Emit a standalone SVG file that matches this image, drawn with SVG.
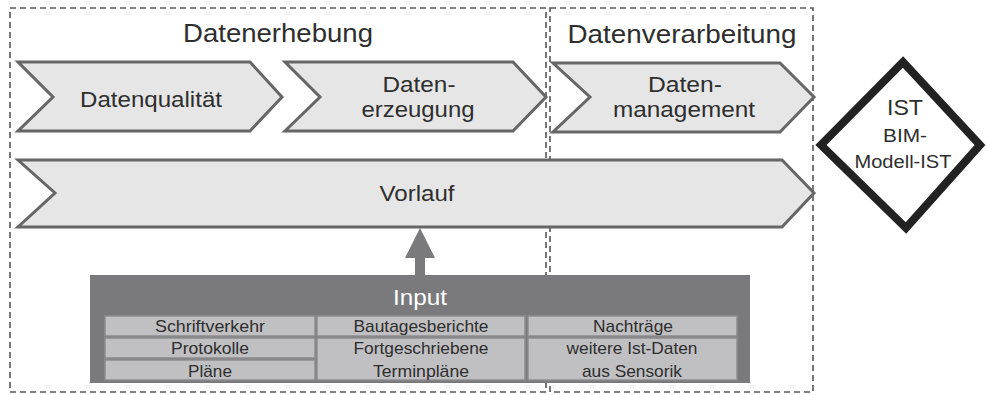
<svg xmlns="http://www.w3.org/2000/svg" width="987" height="395" viewBox="0 0 987 395">
<style>
text{font-family:"Liberation Sans",Arial,sans-serif;fill:#2e2e2e;text-anchor:middle}
.dash{fill:none;stroke:#555;stroke-width:1.6;stroke-dasharray:6 4}
.chev{fill:#e6e6e6;stroke:#666;stroke-width:3;stroke-linejoin:miter}
.cell{fill:#c0c0c2;stroke:#8d8d8f;stroke-width:1.5}
.h{font-size:26px}
.m{font-size:22px}
.s{font-size:17px}
</style>
<rect width="987" height="395" fill="#fff"/>
<g id="frame-datenerhebung">
<rect class="dash" x="10" y="8" width="536" height="384"/>
<text class="h" x="278" y="42" textLength="190" lengthAdjust="spacingAndGlyphs">Datenerhebung</text>
</g>
<g id="frame-datenverarbeitung">
<rect class="dash" x="550" y="8" width="263" height="384"/>
<text class="h" x="682" y="43" textLength="229" lengthAdjust="spacingAndGlyphs">Datenverarbeitung</text>
</g>
<g id="datenqualitaet">
<polygon class="chev" points="18,62 250,62 282,97 250,131 18,131 53,97"/>
<text class="m" x="151" y="107" textLength="142" lengthAdjust="spacingAndGlyphs">Datenqualität</text>
</g>
<g id="datenerzeugung">
<polygon class="chev" points="285,62 513,62 546,97 513,131 285,131 320,97"/>
<text class="m" x="419" y="92" textLength="73" lengthAdjust="spacingAndGlyphs">Daten-</text>
<text class="m" x="418" y="117" textLength="113" lengthAdjust="spacingAndGlyphs">erzeugung</text>
</g>
<g id="datenmanagement">
<polygon class="chev" points="553,63 780,63 814,97 780,132 553,132 590,97"/>
<text class="m" x="685" y="92" textLength="74" lengthAdjust="spacingAndGlyphs">Daten-</text>
<text class="m" x="684" y="117" textLength="142" lengthAdjust="spacingAndGlyphs">management</text>
</g>
<g id="vorlauf">
<polygon class="chev" points="18,160 782,160 814,193 782,227 18,227 55,193"/>
<text class="m" x="417" y="201" textLength="75" lengthAdjust="spacingAndGlyphs">Vorlauf</text>
</g>
<g id="ist">
<polygon points="903,62 980,145 906,228 821,145" fill="#fff" stroke="#222" stroke-width="8" stroke-linejoin="miter"/>
<text x="905" y="115" font-size="22" textLength="36" lengthAdjust="spacingAndGlyphs">IST</text>
<text x="905" y="142" font-size="18" textLength="44" lengthAdjust="spacingAndGlyphs">BIM-</text>
<text x="903" y="168" font-size="18" textLength="97" lengthAdjust="spacingAndGlyphs">Modell-IST</text>
</g>
<g id="connectors">
<polygon points="420,228 435,258 425,258 425,276 415,276 415,258 405,258" fill="#7a7a7c"/>
</g>
<g id="input">
<rect x="90" y="275" width="660" height="108" fill="#7a7a7c"/>
<text x="420" y="305" font-size="22" style="fill:#fff" textLength="54" lengthAdjust="spacingAndGlyphs">Input</text>
<rect class="cell" x="105" y="316" width="210" height="20"/>
<rect class="cell" x="105" y="338" width="210" height="20"/>
<rect class="cell" x="105" y="360" width="210" height="20"/>
<rect class="cell" x="317" y="316" width="208" height="20"/>
<rect class="cell" x="317" y="338" width="208" height="42"/>
<rect class="cell" x="528" y="316" width="209" height="20"/>
<rect class="cell" x="528" y="338" width="209" height="42"/>
<text class="s" x="210" y="332" textLength="110" lengthAdjust="spacingAndGlyphs">Schriftverkehr</text>
<text class="s" x="210" y="354" textLength="78" lengthAdjust="spacingAndGlyphs">Protokolle</text>
<text class="s" x="210" y="377" textLength="44" lengthAdjust="spacingAndGlyphs">Pläne</text>
<text class="s" x="421" y="332" textLength="135" lengthAdjust="spacingAndGlyphs">Bautagesberichte</text>
<text class="s" x="421" y="354" textLength="135" lengthAdjust="spacingAndGlyphs">Fortgeschriebene</text>
<text class="s" x="421" y="377" textLength="96" lengthAdjust="spacingAndGlyphs">Terminpläne</text>
<text class="s" x="633" y="332" textLength="80" lengthAdjust="spacingAndGlyphs">Nachträge</text>
<text class="s" x="632" y="354" textLength="131" lengthAdjust="spacingAndGlyphs">weitere Ist-Daten</text>
<text class="s" x="632" y="377" textLength="100" lengthAdjust="spacingAndGlyphs">aus Sensorik</text>
</g>
</svg>
